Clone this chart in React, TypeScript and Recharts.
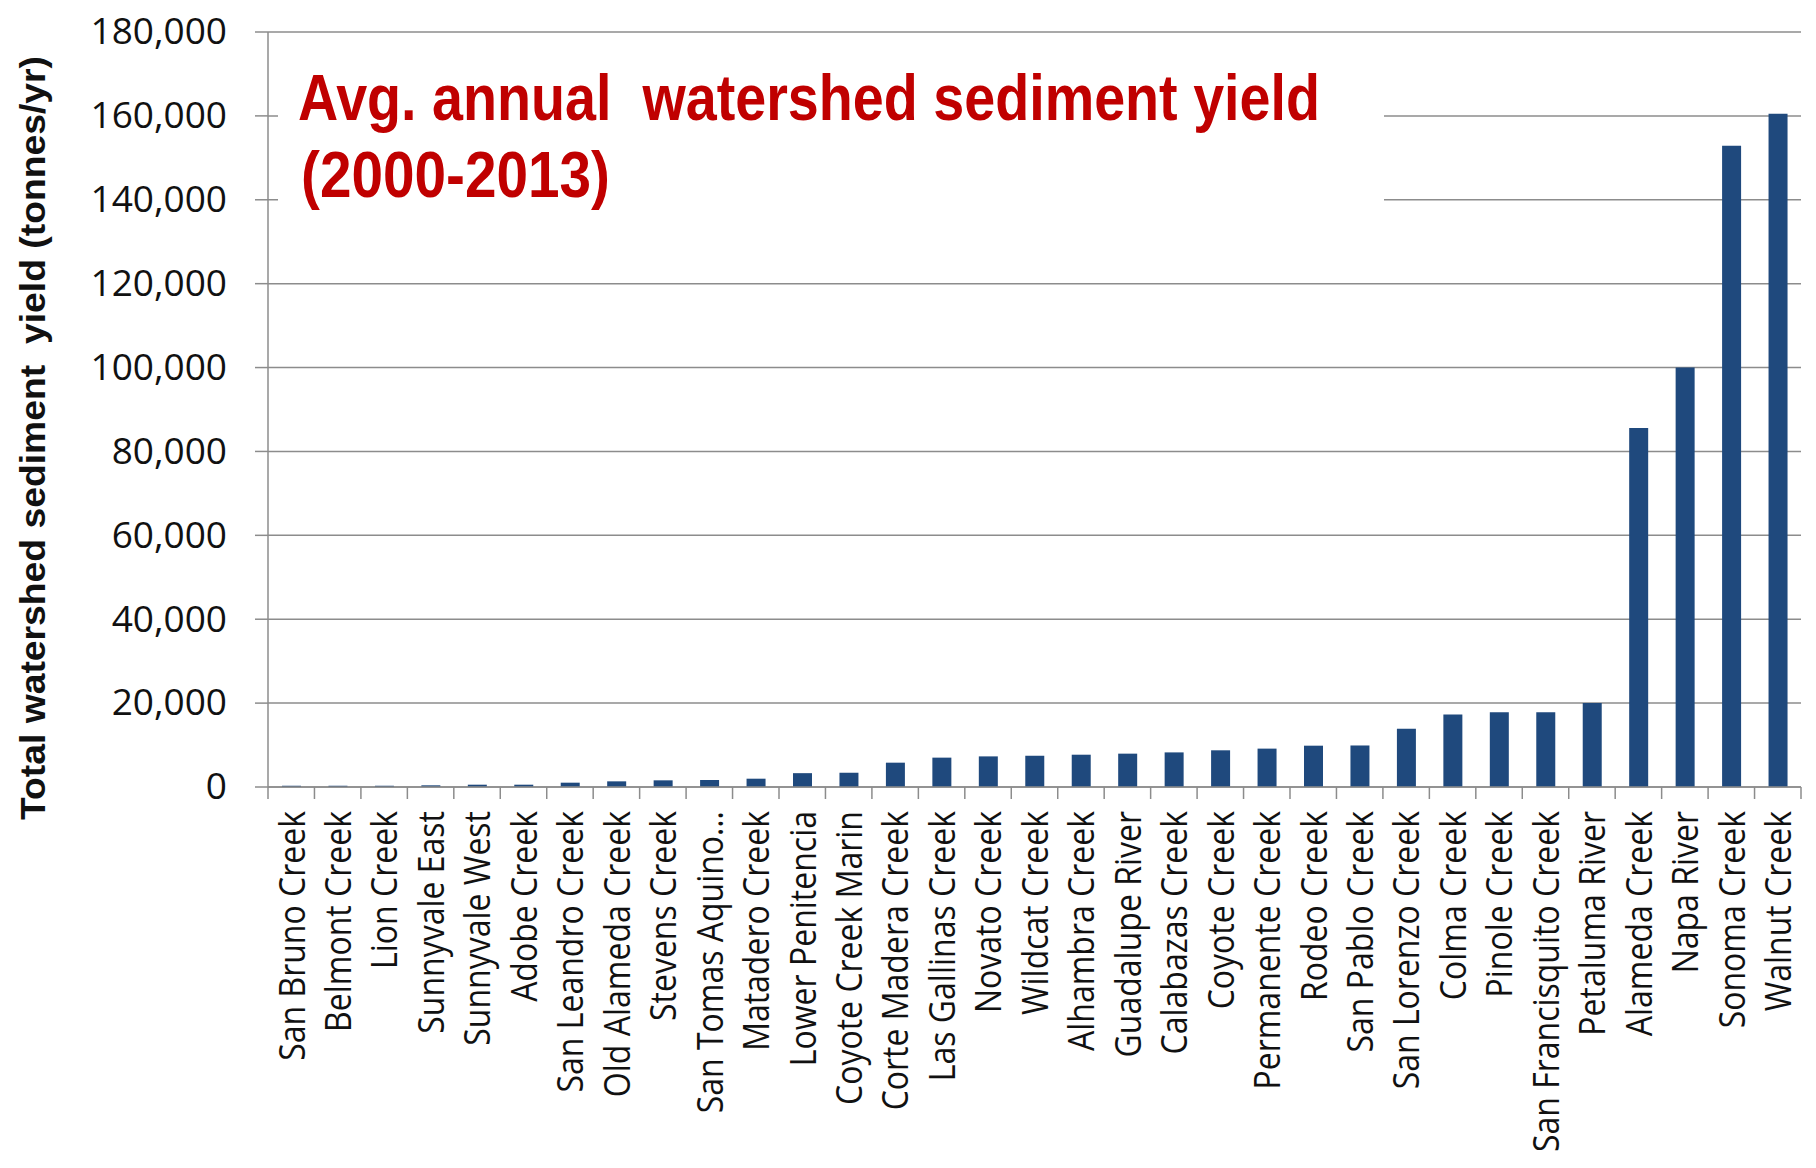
import { BarChart, Bar, XAxis, YAxis, CartesianGrid } from 'recharts';

// Watersheds, sorted by average annual sediment yield
const CREEKS = [
  'San Bruno Creek', 'Belmont Creek', 'Lion Creek', 'Sunnyvale East', 'Sunnyvale West',
  'Adobe Creek', 'San Leandro Creek', 'Old Alameda Creek', 'Stevens Creek', 'San Tomas Aquino…',
  'Matadero Creek', 'Lower Penitencia', 'Coyote Creek Marin', 'Corte Madera Creek', 'Las Gallinas Creek',
  'Novato Creek', 'Wildcat Creek', 'Alhambra Creek', 'Guadalupe River', 'Calabazas Creek',
  'Coyote Creek', 'Permanente Creek', 'Rodeo Creek', 'San Pablo Creek', 'San Lorenzo Creek',
  'Colma Creek', 'Pinole Creek', 'San Francisquito Creek', 'Petaluma River', 'Alameda Creek',
  'Napa River', 'Sonoma Creek', 'Walnut Creek',
];

// tonnes / yr
const YIELDS = [
  300, 300, 300, 400, 550,
  550, 1030, 1350, 1590, 1670,
  1980, 3300, 3400, 5800, 7000,
  7300, 7450, 7700, 7950, 8250,
  8750, 9150, 9850, 9900, 13900,
  17300, 17800, 17800, 20000, 85600,
  100000, 152900, 160500,
];

const Y_TICKS = [0, 20000, 40000, 60000, 80000, 100000, 120000, 140000, 160000, 180000];

const TITLE_LINES = ['Avg. annual  watershed sediment yield', '(2000-2013)'];
const Y_TITLE = 'Total watershed sediment  yield (tonnes/yr)';

const data = CREEKS.map((name, i) => ({ name, tonnes: YIELDS[i] }));

const W = 1816;
const H = 1168;
const LEFT = 268;
const RIGHT = 15;
const TOP = 32;
const X_AXIS_H = 381;
const GRAY = '#8c8c8c';
const BAR = '#1F497D';
const RED = '#C00000';
const LABEL_FONT = '"Open Sans", sans-serif';
const TITLE_FONT = '"Liberation Sans", Arial, sans-serif';

const fmt = (v: number) => v.toLocaleString('en-US');

const ValueTick = (props: any) => {
  const { x, y, payload } = props;
  return (
    <text
      x={x}
      y={y - 1}
      dy="0.36em"
      textAnchor="end"
      fontFamily={LABEL_FONT}
      fontSize={37}
      fill="#111"
    >
      {fmt(payload.value)}
    </text>
  );
};

// tick marks sit between categories, labels run upward from under the axis
const CategoryTick = (props: any) => {
  const { x, y, payload, index } = props;
  const half = payload.offset || (W - LEFT - RIGHT) / CREEKS.length / 2;
  return (
    <g>
      <line x1={x - half} x2={x - half} y1={y} y2={y + 12} stroke={GRAY} strokeWidth={1.5} />
      {index === CREEKS.length - 1 && (
        <line x1={x + half} x2={x + half} y1={y} y2={y + 12} stroke={GRAY} strokeWidth={1.5} />
      )}
      <text
        transform={`translate(${x},${y + 24}) rotate(-90) scale(0.865,1)`}
        dy="0.36em"
        textAnchor="end"
        fontFamily={LABEL_FONT}
        fontSize={37}
        fill="#111"
      >
        {payload.value}
      </text>
    </g>
  );
};

export default function App() {
  return (
    <div style={{ position: 'absolute', left: 0, top: 0, width: W, height: H, background: '#fff' }}>
      <BarChart
        width={W}
        height={H}
        data={data}
        margin={{ top: TOP, right: RIGHT, bottom: 0, left: 0 }}
      >
        <CartesianGrid vertical={false} stroke={GRAY} strokeWidth={1.5} />
        <XAxis
          dataKey="name"
          interval={0}
          height={X_AXIS_H}
          tickSize={0}
          tickMargin={0}
          tickLine={false}
          axisLine={{ stroke: GRAY, strokeWidth: 1.5 }}
          tick={<CategoryTick />}
        />
        <YAxis
          width={LEFT}
          domain={[0, 180000]}
          ticks={Y_TICKS}
          interval={0}
          tickSize={13}
          tickMargin={28}
          tickLine={{ stroke: GRAY, strokeWidth: 1.5 }}
          axisLine={{ stroke: GRAY, strokeWidth: 1.5 }}
          tick={<ValueTick />}
        />
        <Bar dataKey="tonnes" fill={BAR} barSize={19} isAnimationActive={false} />
      </BarChart>

      <svg
        width={W}
        height={H}
        style={{ position: 'absolute', left: 0, top: 0, pointerEvents: 'none' }}
      >
        {/* title text box */}
        <rect x={278} y={44} width={1106} height={226} fill="#fff" />
        <text
          x={298}
          y={120}
          fontFamily={TITLE_FONT}
          fontWeight="bold"
          fontSize={65}
          fill={RED}
          textLength={1022}
          lengthAdjust="spacingAndGlyphs"
          style={{ whiteSpace: 'pre' }}
        >
          {TITLE_LINES[0]}
        </text>
        <text
          x={301}
          y={197}
          fontFamily={TITLE_FONT}
          fontWeight="bold"
          fontSize={65}
          fill={RED}
          textLength={309}
          lengthAdjust="spacingAndGlyphs"
        >
          {TITLE_LINES[1]}
        </text>
        <text
          transform="translate(45,438) rotate(-90)"
          textAnchor="middle"
          fontFamily={TITLE_FONT}
          fontWeight="bold"
          fontSize={35}
          fill="#111"
          textLength={764}
          lengthAdjust="spacingAndGlyphs"
          style={{ whiteSpace: 'pre' }}
        >
          {Y_TITLE}
        </text>
      </svg>
    </div>
  );
}
